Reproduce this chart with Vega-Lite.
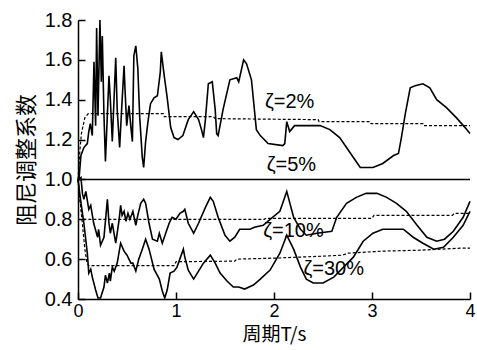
{
 "$schema": "https://vega.github.io/schema/vega-lite/v6.json",
 "width": 392, "height": 279,
 "autosize": {"type": "none"},
 "padding": {"left": 78, "top": 20, "right": 7, "bottom": 51},
 "background": "white",
 "config": {
  "view": {"stroke": null},
  "axis": {"domainColor": "black", "domainWidth": 1.5, "tickColor": "black", "tickWidth": 1.5, "tickSize": -7, "grid": false,
   "labelFontSize": 20, "labelColor": "black",
   "titleFont": "Noto Sans CJK SC", "titleFontSize": 19, "titleFontWeight": "normal", "titleColor": "black"}
 },
 "datasets": {
  "solid": [
   {"s":"2","T":0,"v":1.0},{"s":"2","T":0.01,"v":1.0},{"s":"2","T":0.03,"v":1.12},{"s":"2","T":0.06,"v":1.16},{"s":"2","T":0.095,"v":1.18},{"s":"2","T":0.11,"v":1.24},{"s":"2","T":0.125,"v":1.28},{"s":"2","T":0.146,"v":1.22},{"s":"2","T":0.163,"v":1.59},{"s":"2","T":0.18,"v":1.27},{"s":"2","T":0.19,"v":1.76},{"s":"2","T":0.204,"v":1.32},{"s":"2","T":0.224,"v":1.80},{"s":"2","T":0.238,"v":1.49},{"s":"2","T":0.248,"v":1.72},{"s":"2","T":0.265,"v":1.32},{"s":"2","T":0.28,"v":1.09},{"s":"2","T":0.316,"v":1.52},{"s":"2","T":0.33,"v":1.40},{"s":"2","T":0.35,"v":1.19},{"s":"2","T":0.385,"v":1.61},{"s":"2","T":0.40,"v":1.35},{"s":"2","T":0.425,"v":1.16},{"s":"2","T":0.446,"v":1.36},{"s":"2","T":0.47,"v":1.57},{"s":"2","T":0.48,"v":1.45},{"s":"2","T":0.497,"v":1.27},{"s":"2","T":0.52,"v":1.37},{"s":"2","T":0.54,"v":1.26},{"s":"2","T":0.555,"v":1.19},{"s":"2","T":0.57,"v":1.62},{"s":"2","T":0.59,"v":1.67},{"s":"2","T":0.61,"v":1.56},{"s":"2","T":0.63,"v":1.31},{"s":"2","T":0.656,"v":1.11},{"s":"2","T":0.67,"v":1.06},{"s":"2","T":0.69,"v":1.19},{"s":"2","T":0.714,"v":1.29},{"s":"2","T":0.74,"v":1.38},{"s":"2","T":0.776,"v":1.41},{"s":"2","T":0.81,"v":1.42},{"s":"2","T":0.84,"v":1.54},{"s":"2","T":0.85,"v":1.64},{"s":"2","T":0.88,"v":1.52},{"s":"2","T":0.91,"v":1.41},{"s":"2","T":0.946,"v":1.26},{"s":"2","T":0.98,"v":1.21},{"s":"2","T":1.02,"v":1.20},{"s":"2","T":1.07,"v":1.22},{"s":"2","T":1.125,"v":1.30},{"s":"2","T":1.18,"v":1.34},{"s":"2","T":1.23,"v":1.30},{"s":"2","T":1.26,"v":1.25},{"s":"2","T":1.28,"v":1.21},{"s":"2","T":1.30,"v":1.30},{"s":"2","T":1.33,"v":1.48},{"s":"2","T":1.37,"v":1.49},{"s":"2","T":1.40,"v":1.35},{"s":"2","T":1.415,"v":1.23},{"s":"2","T":1.43,"v":1.22},{"s":"2","T":1.48,"v":1.35},{"s":"2","T":1.55,"v":1.50},{"s":"2","T":1.62,"v":1.51},{"s":"2","T":1.64,"v":1.49},{"s":"2","T":1.69,"v":1.60},{"s":"2","T":1.72,"v":1.58},{"s":"2","T":1.77,"v":1.50},{"s":"2","T":1.82,"v":1.25},{"s":"2","T":1.86,"v":1.22},{"s":"2","T":1.94,"v":1.18},{"s":"2","T":2.09,"v":1.17},{"s":"2","T":2.11,"v":1.18},{"s":"2","T":2.13,"v":1.29},{"s":"2","T":2.16,"v":1.24},{"s":"2","T":2.21,"v":1.27},{"s":"2","T":2.33,"v":1.27},{"s":"2","T":2.47,"v":1.27},{"s":"2","T":2.57,"v":1.25},{"s":"2","T":2.67,"v":1.21},{"s":"2","T":2.74,"v":1.16},{"s":"2","T":2.81,"v":1.11},{"s":"2","T":2.88,"v":1.06},{"s":"2","T":3.01,"v":1.06},{"s":"2","T":3.11,"v":1.08},{"s":"2","T":3.22,"v":1.12},{"s":"2","T":3.27,"v":1.13},{"s":"2","T":3.30,"v":1.21},{"s":"2","T":3.34,"v":1.33},{"s":"2","T":3.39,"v":1.46},{"s":"2","T":3.44,"v":1.47},{"s":"2","T":3.52,"v":1.48},{"s":"2","T":3.59,"v":1.46},{"s":"2","T":3.66,"v":1.40},{"s":"2","T":3.76,"v":1.36},{"s":"2","T":3.86,"v":1.31},{"s":"2","T":3.95,"v":1.26},{"s":"2","T":4.0,"v":1.23},
   {"s":"5","T":0,"v":1.0},{"s":"5","T":4,"v":1.0},
   {"s":"10","T":0,"v":1.0},{"s":"10","T":0.03,"v":1.01},{"s":"10","T":0.045,"v":0.93},{"s":"10","T":0.06,"v":0.90},{"s":"10","T":0.08,"v":0.94},{"s":"10","T":0.11,"v":0.85},{"s":"10","T":0.13,"v":0.87},{"s":"10","T":0.16,"v":0.78},{"s":"10","T":0.20,"v":0.71},{"s":"10","T":0.21,"v":0.75},{"s":"10","T":0.23,"v":0.67},{"s":"10","T":0.265,"v":0.71},{"s":"10","T":0.30,"v":0.90},{"s":"10","T":0.316,"v":0.78},{"s":"10","T":0.33,"v":0.73},{"s":"10","T":0.35,"v":0.78},{"s":"10","T":0.385,"v":0.68},{"s":"10","T":0.42,"v":0.80},{"s":"10","T":0.435,"v":0.87},{"s":"10","T":0.45,"v":0.82},{"s":"10","T":0.47,"v":0.84},{"s":"10","T":0.49,"v":0.79},{"s":"10","T":0.51,"v":0.83},{"s":"10","T":0.53,"v":0.80},{"s":"10","T":0.56,"v":0.84},{"s":"10","T":0.59,"v":0.77},{"s":"10","T":0.61,"v":0.82},{"s":"10","T":0.64,"v":0.88},{"s":"10","T":0.67,"v":0.90},{"s":"10","T":0.69,"v":0.88},{"s":"10","T":0.725,"v":0.78},{"s":"10","T":0.76,"v":0.70},{"s":"10","T":0.81,"v":0.69},{"s":"10","T":0.83,"v":0.73},{"s":"10","T":0.86,"v":0.68},{"s":"10","T":0.895,"v":0.73},{"s":"10","T":0.93,"v":0.78},{"s":"10","T":0.96,"v":0.81},{"s":"10","T":1.0,"v":0.80},{"s":"10","T":1.04,"v":0.83},{"s":"10","T":1.075,"v":0.84},{"s":"10","T":1.09,"v":0.85},{"s":"10","T":1.125,"v":0.78},{"s":"10","T":1.18,"v":0.73},{"s":"10","T":1.23,"v":0.78},{"s":"10","T":1.30,"v":0.86},{"s":"10","T":1.35,"v":0.91},{"s":"10","T":1.38,"v":0.89},{"s":"10","T":1.43,"v":0.81},{"s":"10","T":1.50,"v":0.72},{"s":"10","T":1.55,"v":0.69},{"s":"10","T":1.60,"v":0.71},{"s":"10","T":1.65,"v":0.75},{"s":"10","T":1.755,"v":0.75},{"s":"10","T":1.80,"v":0.76},{"s":"10","T":1.89,"v":0.77},{"s":"10","T":1.96,"v":0.80},{"s":"10","T":2.06,"v":0.84},{"s":"10","T":2.13,"v":0.94},{"s":"10","T":2.20,"v":0.81},{"s":"10","T":2.27,"v":0.75},{"s":"10","T":2.33,"v":0.72},{"s":"10","T":2.44,"v":0.73},{"s":"10","T":2.59,"v":0.74},{"s":"10","T":2.64,"v":0.81},{"s":"10","T":2.74,"v":0.88},{"s":"10","T":2.84,"v":0.91},{"s":"10","T":2.94,"v":0.93},{"s":"10","T":3.05,"v":0.93},{"s":"10","T":3.15,"v":0.91},{"s":"10","T":3.25,"v":0.88},{"s":"10","T":3.35,"v":0.84},{"s":"10","T":3.46,"v":0.77},{"s":"10","T":3.56,"v":0.71},{"s":"10","T":3.66,"v":0.69},{"s":"10","T":3.74,"v":0.70},{"s":"10","T":3.83,"v":0.74},{"s":"10","T":3.93,"v":0.81},{"s":"10","T":4.0,"v":0.89},
   {"s":"30","T":0,"v":1.0},{"s":"30","T":0.02,"v":0.92},{"s":"30","T":0.04,"v":0.85},{"s":"30","T":0.06,"v":0.78},{"s":"30","T":0.095,"v":0.63},{"s":"30","T":0.11,"v":0.53},{"s":"30","T":0.13,"v":0.55},{"s":"30","T":0.146,"v":0.51},{"s":"30","T":0.18,"v":0.445},{"s":"30","T":0.204,"v":0.405},{"s":"30","T":0.23,"v":0.405},{"s":"30","T":0.265,"v":0.46},{"s":"30","T":0.28,"v":0.52},{"s":"30","T":0.30,"v":0.48},{"s":"30","T":0.32,"v":0.53},{"s":"30","T":0.33,"v":0.49},{"s":"30","T":0.35,"v":0.56},{"s":"30","T":0.37,"v":0.54},{"s":"30","T":0.40,"v":0.58},{"s":"30","T":0.435,"v":0.68},{"s":"30","T":0.47,"v":0.64},{"s":"30","T":0.50,"v":0.62},{"s":"30","T":0.54,"v":0.58},{"s":"30","T":0.56,"v":0.58},{"s":"30","T":0.59,"v":0.54},{"s":"30","T":0.62,"v":0.60},{"s":"30","T":0.656,"v":0.65},{"s":"30","T":0.69,"v":0.70},{"s":"30","T":0.725,"v":0.65},{"s":"30","T":0.776,"v":0.55},{"s":"30","T":0.83,"v":0.50},{"s":"30","T":0.86,"v":0.44},{"s":"30","T":0.885,"v":0.405},{"s":"30","T":0.91,"v":0.445},{"s":"30","T":0.94,"v":0.53},{"s":"30","T":0.98,"v":0.54},{"s":"30","T":1.01,"v":0.56},{"s":"30","T":1.075,"v":0.65},{"s":"30","T":1.09,"v":0.61},{"s":"30","T":1.125,"v":0.545},{"s":"30","T":1.18,"v":0.50},{"s":"30","T":1.23,"v":0.54},{"s":"30","T":1.28,"v":0.58},{"s":"30","T":1.35,"v":0.62},{"s":"30","T":1.40,"v":0.58},{"s":"30","T":1.45,"v":0.53},{"s":"30","T":1.52,"v":0.49},{"s":"30","T":1.585,"v":0.46},{"s":"30","T":1.64,"v":0.46},{"s":"30","T":1.70,"v":0.45},{"s":"30","T":1.79,"v":0.47},{"s":"30","T":1.86,"v":0.50},{"s":"30","T":1.96,"v":0.545},{"s":"30","T":2.06,"v":0.63},{"s":"30","T":2.13,"v":0.72},{"s":"30","T":2.20,"v":0.65},{"s":"30","T":2.27,"v":0.56},{"s":"30","T":2.33,"v":0.50},{"s":"30","T":2.40,"v":0.48},{"s":"30","T":2.50,"v":0.48},{"s":"30","T":2.61,"v":0.51},{"s":"30","T":2.71,"v":0.56},{"s":"30","T":2.81,"v":0.61},{"s":"30","T":2.91,"v":0.69},{"s":"30","T":3.01,"v":0.73},{"s":"30","T":3.11,"v":0.75},{"s":"30","T":3.22,"v":0.75},{"s":"30","T":3.32,"v":0.75},{"s":"30","T":3.42,"v":0.71},{"s":"30","T":3.52,"v":0.68},{"s":"30","T":3.63,"v":0.65},{"s":"30","T":3.73,"v":0.66},{"s":"30","T":3.83,"v":0.71},{"s":"30","T":3.93,"v":0.77},{"s":"30","T":4.0,"v":0.84}
  ],
  "dashed": [
   {"s":"2","T":0,"v":1.0},{"s":"2","T":0.02,"v":1.15},{"s":"2","T":0.035,"v":1.23},{"s":"2","T":0.07,"v":1.31},{"s":"2","T":0.105,"v":1.33},{"s":"2","T":0.87,"v":1.33},{"s":"2","T":0.88,"v":1.315},{"s":"2","T":1.38,"v":1.315},{"s":"2","T":1.40,"v":1.305},{"s":"2","T":2.45,"v":1.30},{"s":"2","T":2.46,"v":1.29},{"s":"2","T":2.98,"v":1.29},{"s":"2","T":2.99,"v":1.28},{"s":"2","T":3.52,"v":1.28},{"s":"2","T":3.53,"v":1.27},{"s":"2","T":4.0,"v":1.27},
   {"s":"10","T":0,"v":1.0},{"s":"10","T":0.02,"v":0.9},{"s":"10","T":0.04,"v":0.82},{"s":"10","T":0.06,"v":0.80},{"s":"10","T":1.9,"v":0.80},{"s":"10","T":1.92,"v":0.805},{"s":"10","T":3.0,"v":0.805},{"s":"10","T":3.02,"v":0.82},{"s":"10","T":3.82,"v":0.82},{"s":"10","T":3.84,"v":0.83},{"s":"10","T":4.0,"v":0.83},
   {"s":"30","T":0,"v":1.0},{"s":"30","T":0.03,"v":0.85},{"s":"30","T":0.07,"v":0.65},{"s":"30","T":0.09,"v":0.585},{"s":"30","T":0.11,"v":0.567},{"s":"30","T":0.98,"v":0.567},{"s":"30","T":1.0,"v":0.587},{"s":"30","T":1.6,"v":0.59},{"s":"30","T":1.62,"v":0.60},{"s":"30","T":2.0,"v":0.605},{"s":"30","T":2.5,"v":0.615},{"s":"30","T":2.7,"v":0.62},{"s":"30","T":2.75,"v":0.63},{"s":"30","T":3.1,"v":0.64},{"s":"30","T":3.5,"v":0.645},{"s":"30","T":3.9,"v":0.655},{"s":"30","T":4.0,"v":0.655}
  ],
  "labels": [
   {"label":"ζ=2%","T":1.908,"v":1.357},
   {"label":"ζ=5%","T":1.925,"v":1.042},
   {"label":"ζ=10%","T":1.89,"v":0.713},
   {"label":"ζ=30%","T":2.30,"v":0.52}
  ]
 },
 "encoding": {
  "x": {"field": "T", "type": "quantitative", "scale": {"domain": [0, 4], "nice": false, "zero": false},
   "axis": {"values": [0, 1, 2, 3, 4], "title": "周期T/s", "labelFlush": false, "labelFontSize": 18, "labelPadding": 10, "titlePadding": 5}},
  "y": {"field": "v", "type": "quantitative", "scale": {"domain": [0.4, 1.8], "nice": false, "zero": false},
   "axis": {"values": [0.4, 0.6, 0.8, 1.0, 1.2, 1.4, 1.6, 1.8], "format": ".1f", "title": "阻尼调整系数", "titleFontSize": 22, "labelPadding": 13, "titlePadding": 6}}
 },
 "layer": [
  {"data": {"name": "solid"}, "mark": {"type": "line", "color": "black", "strokeWidth": 1.6},
   "encoding": {"detail": {"field": "s"}}},
  {"data": {"name": "dashed"}, "mark": {"type": "line", "color": "black", "strokeWidth": 1.2, "strokeDash": [3, 2]},
   "encoding": {"detail": {"field": "s"}}},
  {"data": {"name": "labels"}, "mark": {"type": "text", "align": "left", "baseline": "alphabetic", "fontSize": 20, "color": "black"},
   "encoding": {"text": {"field": "label"}}}
 ]
}
